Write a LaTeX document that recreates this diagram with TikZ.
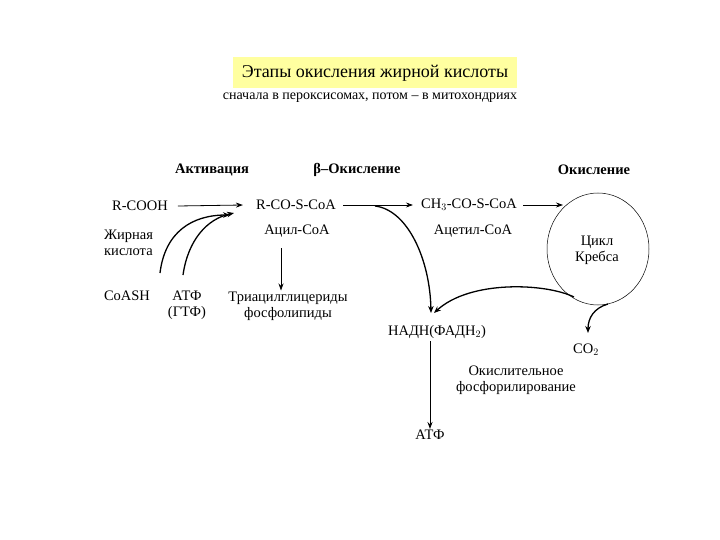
\documentclass[tikz,border=0pt]{standalone}
\usepackage{fontspec}
\setmainfont{Liberation Serif}
\usetikzlibrary{arrows.meta,shapes.geometric}
\begin{document}
\begin{tikzpicture}[x=1pt,y=-1pt,
  lbl/.style={inner sep=1pt,font=\fontsize{14.5}{16}\selectfont},
  hdr/.style={inner sep=1pt,font=\fontsize{14.5}{16}\selectfont\bfseries},
  arr/.style={line width=0.8pt,-{Stealth[length=7pt,width=5pt]}},
  carr/.style={line width=1.3pt,-{Stealth[length=7pt,width=5.5pt]}}]
\useasboundingbox (0,0) rectangle (720,540);
\node[fill={rgb,255:red,255;green,255;blue,160},minimum width=284pt,minimum height=31pt,inner sep=0pt,font=\fontsize{18}{21}\selectfont] (title) at (375,73) {Этапы окисления жирной кислоты};
\node[lbl,font=\fontsize{14}{16}\selectfont] (sub) at (370,98) {сначала в пероксисомах, потом – в митохондриях};
\node[hdr] (act) at (212,170) {Активация};
\node[hdr] (beta) at (357,170) {β–Окисление};
\node[hdr] (ox) at (594,170) {Окисление};
\node[lbl] (rcooh) at (140,206) {R-COOH};
\node[lbl] (rcos) at (296,205) {R-CO-S-CoA};
\node[lbl] (ch3) at (469,205) {CH$_3$-CO-S-CoA};
\node[draw,ellipse,minimum width=102pt,minimum height=112pt,inner sep=0pt,line width=0.5pt] (krebs) at (598,249) {};
\node[lbl,align=center] (krebst) at (597,250) {Цикл\\Кребса};
\node[lbl] (acyl) at (297,231) {Ацил-CoA};
\node[lbl] (acetyl) at (473,231) {Ацетил-CoA};
\node[lbl,align=left,anchor=west] (fa) at (103,243) {Жирная\\кислота};
\node[lbl] (coash) at (127,296) {CoASH};
\node[lbl,align=center] (atp1) at (187,305) {АТФ\\(ГТФ)};
\node[lbl,align=center] (tag) at (288,306) {Триацилглицериды\\фосфолипиды};
\node[lbl] (nadh) at (437,332) {НАДН(ФАДН$_2$)};
\node[lbl] (co2) at (586,350) {CO$_2$};
\node[lbl,align=center] (oxph) at (516,380) {Окислительное\\фосфорилирование};
\node[lbl] (atp2) at (430,435) {АТФ};
\coordinate (c1) at (160,273);
\coordinate (c2) at (183,275);
\coordinate (t1) at (230,215);
\coordinate (t2) at (234,213);
\coordinate (b0) at (375,206);
\coordinate (ntip) at (431,313);
\coordinate (ntip2) at (434,313);
\coordinate (k1) at (574,297);
\coordinate (k2) at (608,304);
\coordinate (kin) at (563,205);
\coordinate (nb) at (430,341);
\draw[arr] ([xshift=9pt]rcooh.east) -- ([xshift=-12pt]rcos.west);
\draw[arr] ([xshift=6pt]rcos.east) -- ([xshift=-7pt]ch3.west);
\draw[arr] ([xshift=5pt]ch3.east) -- (kin);
\draw[arr] (281,248) -- (tag.north -| 281,0);
\draw[carr] (c1) .. controls (165,232) and (192,215) .. (t1);
\draw[carr] (c2) .. controls (188,240) and (207,219) .. (t2);
\draw[carr] (b0) .. controls (408,210) and (430,260) .. (ntip);
\draw[carr] (k1) .. controls (545,283) and (470,280) .. (ntip2);
\draw[carr] (k2) .. controls (594,308) and (588,318) .. (588,333);
\draw[arr,line width=1pt] (nb) -- (atp2.north -| nb);
\end{tikzpicture}
\end{document}
